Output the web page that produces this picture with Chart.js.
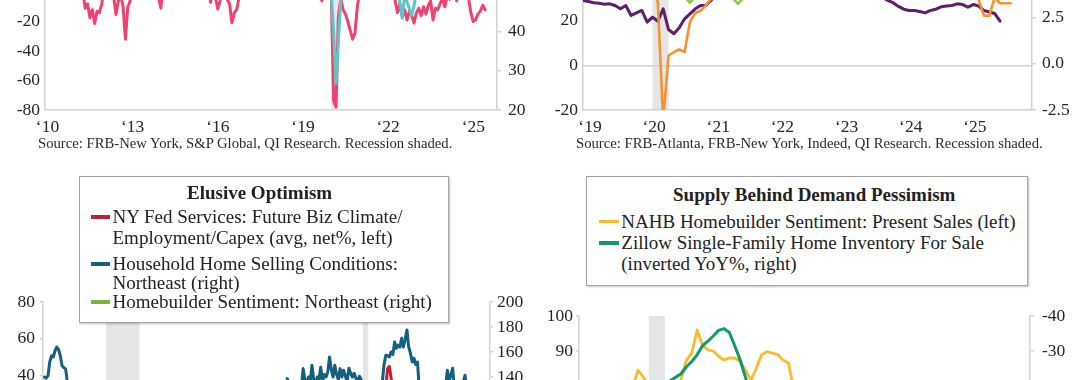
<!DOCTYPE html>
<html><head><meta charset="utf-8">
<script src="https://cdn.jsdelivr.net/npm/chart.js@4/dist/chart.umd.min.js"></script>
<style>
html,body{margin:0;padding:0;width:1080px;height:380px;overflow:hidden;background:#fff;}
#page{position:relative;width:1080px;height:380px;overflow:hidden;font-family:'Liberation Serif','Times New Roman',serif;color:#222;}
canvas{position:absolute;}
.src{position:absolute;font-size:14.7px;line-height:18px;white-space:nowrap;color:#2a2a2a;z-index:4;}
.box{position:absolute;background:#fff;border:1.5px solid #a3a3a3;box-shadow:1px 1px 2px rgba(0,0,0,.25);box-sizing:border-box;z-index:5;}
.t{position:absolute;white-space:nowrap;font-size:19px;line-height:22px;z-index:6;color:#222;}
.ttl{font-weight:bold;}
.mk{position:absolute;height:3.5px;z-index:6;}
</style></head>
<body>
<div id="page">
  <canvas id="c1" width="540" height="237" style="left:0;top:-87px"></canvas>
  <canvas id="c2" width="540" height="240" style="left:540px;top:-90px"></canvas>
  <canvas id="c3" width="540" height="310" style="left:0;top:282px"></canvas>
  <canvas id="c4" width="540" height="305" style="left:540px;top:296px"></canvas>

  <div class="src" style="left:38px;top:134px">Source: FRB-New York, S&amp;P Global, QI Research. Recession shaded.</div>
  <div class="src" style="left:576px;top:134px">Source: FRB-Atlanta, FRB-New York, Indeed, QI Research. Recession shaded.</div>

  <div class="box" style="left:79px;top:176px;width:370px;height:147px"></div>
  <div class="t ttl" style="left:187px;top:182px">Elusive Optimism</div>
  <div class="mk" style="left:91px;top:215.3px;width:19px;background:#c3202f"></div>
  <div class="t" style="left:112.5px;top:206px">NY Fed Services: Future Biz Climate/</div>
  <div class="t" style="left:112.5px;top:227px">Employment/Capex (avg, net%, left)</div>
  <div class="mk" style="left:91px;top:262.3px;width:19px;background:#14607f"></div>
  <div class="t" style="left:112.5px;top:253px">Household Home Selling Conditions:</div>
  <div class="t" style="left:112.5px;top:272px">Northeast (right)</div>
  <div class="mk" style="left:91px;top:300.3px;width:19px;background:#7bb343"></div>
  <div class="t" style="left:112.5px;top:291px">Homebuilder Sentiment: Northeast (right)</div>

  <div class="box" style="left:586px;top:176px;width:442px;height:110px"></div>
  <div class="t ttl" style="left:673px;top:183.6px">Supply Behind Demand Pessimism</div>
  <div class="mk" style="left:599px;top:219.9px;width:20px;background:#fdb92e"></div>
  <div class="t" style="left:621.3px;top:210.6px">NAHB Homebuilder Sentiment: Present Sales (left)</div>
  <div class="mk" style="left:599px;top:241.3px;width:20px;background:#0e9a6e"></div>
  <div class="t" style="left:621.3px;top:232px">Zillow Single-Family Home Inventory For Sale</div>
  <div class="t" style="left:621.3px;top:252.8px">(inverted YoY%, right)</div>
</div>
<script>
// ================= DATA =================
// Panel 1: NY Fed services (net %, left) monthly from Jan 2010; S&P Global US services PMI (right) monthly from Jan 2019
const p1Start = 2010;
const nyFedServices = [
  8, 12, 15, 18, 20, 14, 10, 6, 8, 12, 15, 18,
  20, 22, 15, 5, 0, -11, -8, -17.5, -12, -21.3, -13, -14,
  -8, 4, 8, 3, 2, -3, -15.3, -6, -2, -10, -32, -10,
  -6, 3, 8, 12, 10, 14, 16, 18, 12, 6, 10, 2,
  -4, -11, 6, 14, 18, 20, 22, 20, 18, 22, 24, 20,
  18, 16, 12, 15, 18, 20, 18, 14, 10, 6, -7, 4,
  -3, -11.5, -6, 2, -2, -5, -8, -20.9, -14.2, -12, -4, 10,
  15, 22, 25, 28, 26, 24, 22, 20, 24, 26, 28, 30,
  28, 26, 24, 22, 24, 25, 22, 20, 22, 18, 12, 8,
  6, 10, 12, 10, 8, 6, 4, 2, 0, -6, 2, 4,
  4, -2, -74, -78, -17, -4, -12, -15, -20, -26, -32, -28,
  -10, 0, 10, 18, 22, 25, 22, 15, 12, 14, 16, 10,
  5, 8, 6, 2, -6, -14, -8, -17, -12, -19, -13, -16,
  -21, -14, -11, -16, -10, -15, -9, -6, -19, -11, -12, -8,
  -4, -10, -3, -5, -2, 0, -6, 3, 2, -3, 2, -4,
  -14, -20, -19, -15, -13, -9, -12
];
const pmiStart = 2019;
const servicesPmi = [
  54.2, 56.0, 55.3, 53.0, 50.9, 51.5, 53.0, 50.7, 50.9, 50.6, 51.6, 52.8,
  53.4, 49.4, 39.8, 26.7, 37.5, 47.9, 50.0, 55.0, 54.6, 56.9, 58.4, 54.8,
  58.3, 59.8, 60.4, 64.7, 70.4, 64.6, 59.9, 55.1, 54.9, 58.7, 58.0, 57.6,
  51.2, 56.5, 58.0, 53.7, 53.4, 52.7, 47.3, 43.4, 49.3, 47.6, 45.8, 44.2,
  46.6, 50.6, 52.6, 53.6, 54.9, 54.4, 52.3, 50.5, 50.1, 50.6, 50.8, 51.4,
  52.5, 52.3, 51.7, 51.3, 54.8, 55.3, 55.0, 55.7, 55.2, 56.0, 56.1, 56.8,
  52.9, 51.0, 54.4, 50.8, 52.9, 52.9, 55.7
];
const p1TickLabels = ['\u201810', '\u201813', '\u201816', '\u201819', '\u201822', '\u201825'];

// Panel 2: monthly from Jan 2019
const p2Start = 2019;
const orangeLeft = [
  35, 38, 36, 34, 37, 33, 35, 36, 34, 33, 35, 36,
  36, 38, 28, -25, 4.4, 5.9, 7.2, 6, 19.5, 23.5, 24.5, 27,
  30, 34, 38, 42, 45, 44, 42, 40, 41, 43, 42, 44,
  45, 44, 42, 40, 38, 36, 35, 34, 33, 34, 33, 32,
  33, 34, 35, 33, 34, 35, 36, 35, 34, 33, 34, 35,
  36, 35, 34, 36, 35, 34, 35, 36, 37, 38, 40, 42,
  38, 33, 29.5, 22.3, 22.3, 30.5, 27.9, 27.9, 27.9
];
const purpleRight = [
  3.42, 3.36, 3.30, 3.27, 3.22, 3.24, 3.15, 2.97, 3.15, 2.61, 2.75, 2.88,
  2.25, 2.52, 2.30, 2.97, 1.85, 1.62, 1.95, 2.43, 2.70, 2.97, 3.15, 3.15,
  3.45, 3.7, 3.9, 4.2, 4.6, 4.9, 5.1, 5.3, 5.4, 5.5, 5.6, 5.8,
  5.9, 6.0, 6.1, 6.1, 6.0, 5.9, 5.8, 5.7, 5.6, 5.5, 5.4, 5.3,
  5.2, 5.0, 4.9, 4.7, 4.6, 4.4, 4.1, 3.8, 3.6, 3.42, 3.3, 3.1,
  2.95, 2.88, 2.88, 2.82, 2.75, 2.88, 2.95, 3.08, 3.12, 3.15, 3.24, 3.2,
  3.06, 3.2, 3.12, 2.88, 2.8, 2.72, 2.3
];
const greenQStart = 2019 + 2 / 12; // quarterly, Mar 2019
const greenQuarterly = [
  42, 40, 41, 39, 38, 36, 30.9, 38, 37, 30.4, 44, 48,
  50, 52, 49, 46, 44, 42, 40, 38, 37, 36, 37, 38, 36, 35, 34
];
const p2TickLabels = ['\u201819', '\u201820', '\u201821', '\u201822', '\u201823', '\u201824', '\u201825'];

// Panel 3: monthly from Jan 2005
const p3Start = 2005;
const nyFedFuture = [
  28, 30, 26, 25, 27, 29, 31, 28, 24, 22, 26, 28,
  30, 27, 25, 24, 22, 19, 21, 18, 20, 23, 24, 22,
  24, 21, 20, 22, 19, 21, 18, 17, 15, 16, 13, 12,
  10, 8, 6, 4, 3, 1, -1, 0, -4, -12, -18, -15,
  -10, -8, -4, 2, 8, 12, 15, 19, 22, 24, 22, 25,
  26, 24, 27, 28, 26, 22, 19, 18, 21, 23, 26, 28,
  30, 29, 27, 24, 20, 17, 14, 10, 12, 14, 17, 19,
  22, 24, 23, 20, 18, 16, 15, 14, 17, 13, 10, 14,
  17, 19, 21, 20, 22, 24, 23, 21, 20, 18, 22, 24,
  20, 23, 25, 26, 27, 28, 26, 25, 27, 28, 29, 30,
  28, 26, 25, 24, 26, 25, 23, 22, 20, 21, 23, 21,
  19, 17, 20, 21, 19, 18, 20, 22, 21, 23, 28, 32,
  33, 31, 32, 30, 29, 30, 28, 29, 30, 31, 30, 32,
  33, 31, 30, 29, 30, 31, 29, 28, 27, 25, 23, 20,
  21, 23, 24, 22, 23, 21, 20, 22, 19, 18, 21, 22,
  23, 20, -10, -25, -5, 10, 14, 12, 15, 17, 20, 27,
  30, 32, 34, 43.6, 44.9, 38.5, 33, 30, 28, 29, 27, 25,
  22, 20, 17, 14, 12, 8, 5, 3, 4, 2, 0, 1,
  3, 5, 4, 2, 3, 1, 4, 6, 5, 3, 6, 8,
  10, 12, 11, 13, 12, 10, 11, 14, 15, 18, 22, 20,
  15, 10, 4, 0, 3, 6, 8
];
const homeSellingNE = [
  140, 139, 141, 152, 157, 156, 161, 164, 162, 157, 149, 147.5,
  146.5, 136, 128, 120, 114, 108, 100, 94, 88, 84, 80, 76,
  74, 72, 70, 66, 64, 60, 58, 52, 48, 46, 42, 40,
  38, 36, 34, 33, 32, 30, 31, 30, 29, 28, 27, 28,
  30, 32, 33, 36, 38, 40, 44, 46, 48, 50, 48, 46,
  48, 50, 52, 54, 50, 46, 44, 46, 48, 50, 52, 54,
  52, 50, 48, 50, 52, 54, 56, 58, 56, 58, 60, 62,
  64, 68, 72, 76, 80, 84, 86, 88, 90, 92, 94, 96,
  98, 102, 106, 110, 112, 114, 112, 110, 108, 110, 112, 114,
  112, 110, 112, 114, 116, 118, 116, 114, 116, 118, 120, 118,
  120, 118, 122, 124, 122, 126, 124, 128, 126, 124, 128, 130,
  128, 132, 130, 134, 132, 130, 138.7, 134, 132, 134, 130, 136,
  134, 136, 132, 146.7, 138, 134, 140, 136, 149.4, 138, 134, 140,
  138, 147.8, 136, 142, 140, 144, 156, 146, 140, 149.4, 142, 138,
  146.7, 140, 145.4, 141, 136, 147, 143, 140, 143, 139, 136, 140.6,
  138, 134, 110, 80, 85, 100, 115, 120, 125, 130, 135, 136,
  136, 150, 157.4, 157, 156, 160, 158, 168, 163, 165.6, 164, 171,
  164, 170, 177.6, 164, 159, 152, 155, 150, 152, 130, 125, 120,
  118, 116, 120, 122, 125, 128, 130, 126, 128, 132, 130, 134,
  134, 145.4, 136, 142, 147, 130, 132, 128, 134, 130, 136, 141.4,
  130, 128, 126, 124, 122, 125, 120
];
const builderNE = [
  62, 64, 66, 65, 63, 64, 62, 60, 58, 56, 52, 50,
  48, 46, 44, 42, 38, 36, 34, 32, 30, 31, 32, 30,
  32, 33, 31, 30, 28, 26, 24, 22, 20, 19, 18, 17,
  16, 17, 16, 15, 14, 13, 12, 13, 12, 10, 9, 8,
  9, 10, 11, 14, 16, 17, 18, 19, 20, 19, 18, 17,
  18, 19, 20, 22, 21, 18, 16, 15, 16, 17, 18, 19,
  18, 17, 18, 19, 18, 17, 16, 17, 18, 19, 20, 22,
  24, 26, 27, 28, 30, 31, 32, 34, 36, 37, 38, 40,
  42, 43, 44, 43, 45, 46, 48, 47, 46, 44, 43, 44,
  45, 44, 43, 42, 44, 45, 46, 47, 48, 47, 46, 45,
  44, 45, 46, 47, 48, 49, 50, 51, 50, 49, 50, 51,
  50, 49, 48, 47, 48, 49, 50, 51, 52, 53, 54, 56,
  58, 57, 58, 59, 60, 61, 60, 59, 58, 59, 60, 62,
  61, 60, 59, 58, 57, 56, 55, 54, 53, 52, 50, 48,
  50, 51, 52, 53, 54, 55, 56, 57, 58, 59, 60, 61,
  60, 58, 55, 28, 40, 55, 65, 72, 76, 78, 80, 79,
  78, 77, 76, 78, 79, 78, 76, 75, 74, 75, 76, 77,
  76, 74, 72, 68, 64, 58, 52, 46, 42, 38, 35, 36,
  38, 42, 45, 48, 52, 55, 56, 54, 50, 46, 44, 46,
  50, 52, 54, 56, 55, 52, 50, 48, 47, 49, 52, 54,
  52, 50, 47, 45, 44, 43, 45
];

// Panel 4: monthly from Jan 2019
const p4Start = 2019;
const nahbPresentSales = [
  62, 66, 68, 68, 71, 70, 71, 73, 74, 77, 80, 84.5,
  82.5, 80, 79, 36, 42, 63, 72, 82, 87.4, 89.4, 96, 91.7,
  90.3, 90, 88.5, 87.4, 88, 88, 87, 84.6, 81.7, 85, 88.9, 89.8,
  89.4, 89, 87.4, 86.6, 79, 74, 61, 55, 52, 44, 39, 36,
  40, 46, 49, 51, 56, 61, 62, 56, 51, 46, 40, 43,
  50, 53, 56, 56, 51, 47, 46, 45, 46, 47, 50, 52,
  52, 47, 44, 45, 37, 37, 38, 37, 37
];
const zillowInvYoY = [
  3, 2, 1, 0, -1, -2, -3, -4, -5, -6, -7, -8,
  -9, -10, -11, -14, -18, -21.5, -22.5, -23.5, -25.5, -27, -28.9, -31.5,
  -32.8, -34.3, -35.9, -36.4, -35.3, -31.5, -27.5, -22.5, -17, -14, -12, -10,
  -8, -6, -2, 2, 8, 14, 20, 26, 29, 29.5, 29, 28,
  27, 25, 20, 12, 4, -2, -6, -8, -6, -3, 0, 2,
  4, 8, 12, 16, 20, 22, 24, 24, 23, 22, 21, 20,
  18, 18, 19, 20, 20, 18, 16, 14, 12
];

const recessions = [[2007.917, 2009.5], [2020.083, 2020.333]];

// ================= CHARTS =================
Chart.defaults.font.family = "'Liberation Serif', 'Times New Roman', serif";
Chart.defaults.font.size = 17.5;
Chart.defaults.color = '#262626';
Chart.defaults.animation = false;

const axisGray = '#d2d2d2';
const bandGray = '#e4e5e7';

function monthly(start, vals) { return vals.map((v, i) => ({ x: start + i / 12, y: v })); }
function quarterly(start, vals) { return vals.map((v, i) => ({ x: start + i / 4, y: v })); }

const bandPlugin = {
  id: 'bands',
  beforeDraw(chart) {
    const { ctx, chartArea: a, scales } = chart;
    const x = scales.x;
    ctx.save();
    ctx.fillStyle = bandGray;
    recessions.forEach(([s, e]) => {
      if (e < x.min || s > x.max) return;
      const x1 = x.getPixelForValue(s), x2 = x.getPixelForValue(e);
      ctx.fillRect(x1, a.top, x2 - x1, a.bottom - a.top);
    });
    ctx.restore();
  }
};

function lineDs(data, color, axis, width) {
  return { data, borderColor: color, backgroundColor: color, borderWidth: width, pointRadius: 0,
           tension: 0, yAxisID: axis, borderJoinStyle: 'round', borderCapStyle: 'round' };
}
function xAxis(min, max, step, off, labels) {
  return {
    type: 'linear', min, max,
    afterFit: s => { s.height = 40; },
    grid: { display: false, drawTicks: false },
    border: { display: true, color: axisGray, width: 1.5 },
    ticks: { stepSize: step, includeBounds: false, autoSkip: false, maxRotation: 0, padding: 7, labelOffset: off,
             callback: (v, i) => labels ? (labels[i] || '') : '\u2018' + String(v).slice(2) }
  };
}
function yAxis(pos, min, max, step, width, o) {
  return {
    type: 'linear', position: pos, min, max, reverse: !!o.reverse,
    afterFit: s => { s.width = width; },
    grid: {
      display: true, drawOnChartArea: !!o.zero, drawTicks: !!o.tick, tickLength: o.tick || 0, lineWidth: 1.5,
      color: o.zero ? (c => (c.tick && c.tick.value === 0) ? axisGray : 'rgba(0,0,0,0)') : axisGray
    },
    border: { display: true, color: axisGray, width: 1.5 },
    ticks: { stepSize: step, includeBounds: false, padding: o.pad, callback: o.fmt || (v => String(v)) }
  };
}
function make(id, datasets, scales) {
  new Chart(document.getElementById(id), {
    type: 'line',
    data: { datasets },
    options: {
      responsive: false, animation: false,
      layout: { padding: { top: 20, left: 0, right: 0, bottom: 0 } },
      plugins: { legend: { display: false }, tooltip: { enabled: false } },
      scales
    },
    plugins: [bandPlugin]
  });
}

// Panel 1
make('c1', [
  lineDs(monthly(pmiStart, servicesPmi), '#5cc6c7', 'y2', 3),
  lineDs(monthly(p1Start, nyFedServices), '#ef426e', 'y', 3)
], {
  x: xAxis(2010, 2025.92, 3, 2.5, p1TickLabels),
  y: yAxis('left', -80, 40, 20, 45, { pad: 5 }),
  y2: yAxis('right', 20, 65.15, 10, 43, { pad: 7, tick: 4 })
});

// Panel 2
const greenDs = lineDs(quarterly(greenQStart, greenQuarterly), '#8dc63f', 'y', 2);
greenDs.pointRadius = 6; greenDs.pointStyle = 'rectRot'; greenDs.pointBorderWidth = 2.5;
greenDs.pointBackgroundColor = '#ffffff'; greenDs.pointBorderColor = '#8dc63f';
make('c2', [
  greenDs,
  lineDs(monthly(p2Start, orangeLeft), '#f7912d', 'y', 2.6),
  lineDs(monthly(p2Start, purpleRight), '#5b1f6c', 'y2', 3)
], {
  x: xAxis(2019, 2025.999, 1, 7, p2TickLabels),
  y: yAxis('left', -20, 60.72, 10, 43, { pad: 5, zero: true }),
  y2: yAxis('right', -2.5, 7.23, 2.5, 48, { pad: 6, tick: 4, fmt: v => v.toFixed(1) })
});

// Panel 3
make('c3', [
  lineDs(monthly(p3Start, nyFedFuture), '#c3202f', 'y', 3),
  lineDs(monthly(p3Start, homeSellingNE), '#14607f', 'y2', 3),
  lineDs(monthly(p3Start, builderNE), '#7bb343', 'y2', 3)
], {
  x: xAxis(2004.93, 2026.1, 3, 0, null),
  y: yAxis('left', -56.4, 80, 20, 43, { pad: 5, tick: 3 }),
  y2: yAxis('right', 0, 200, 20, 50, { pad: 4, tick: 3 })
});

// Panel 4
make('c4', [
  lineDs(monthly(p4Start, zillowInvYoY), '#0e9a6e', 'y2', 3),
  lineDs(monthly(p4Start, nahbPresentSales), '#fdb92e', 'y', 2.8)
], {
  x: xAxis(2019, 2025.999, 1, 7, null),
  y: yAxis('left', 30, 100, 10, 39, { pad: 3, tick: 3 }),
  y2: yAxis('right', -40, 30, 10, 50, { pad: 8, tick: 4, reverse: true })
});
</script>
</body></html>
